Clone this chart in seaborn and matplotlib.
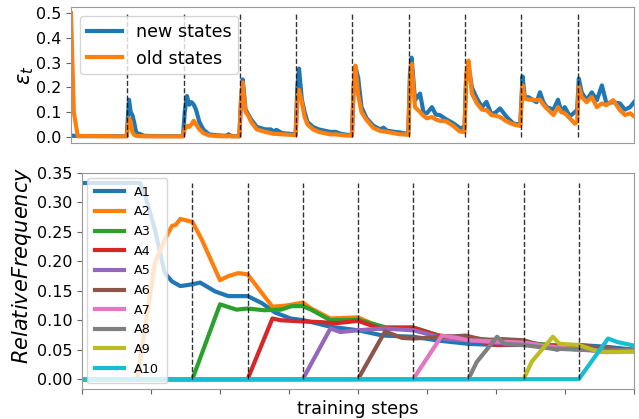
import numpy as np
import pandas as pd
import matplotlib
matplotlib.use("Agg")
import matplotlib.pyplot as plt
import seaborn as sns

# ---- top panel: epsilon_t for new / old states (x in units of tasks) ----
x_top = [0, 0.05, 0.12, 0.9, 0.99,
         1.03, 1.06, 1.09, 1.12, 1.16, 1.22, 1.3, 1.5, 1.99,
         2.02, 2.06, 2.1, 2.14, 2.18, 2.22, 2.28, 2.35, 2.45, 2.6, 2.75, 2.8, 2.85, 2.99,
         3.02, 3.05, 3.1, 3.15, 3.2, 3.3, 3.45, 3.55, 3.6, 3.65, 3.75, 3.9, 3.99,
         4.02, 4.05, 4.1, 4.15, 4.2, 4.3, 4.4, 4.5, 4.6, 4.7, 4.8, 4.9, 4.99,
         5.02, 5.05, 5.1, 5.16, 5.25, 5.37, 5.49, 5.55, 5.61, 5.75, 5.84, 5.9, 5.99,
         6.02, 6.05, 6.11, 6.2, 6.26, 6.32, 6.41, 6.48, 6.55, 6.67, 6.79, 6.91, 6.99,
         7.02, 7.06, 7.12, 7.21, 7.3, 7.38, 7.47, 7.55, 7.62, 7.74, 7.86, 7.98,
         8.02, 8.06, 8.13, 8.21, 8.27, 8.33, 8.39, 8.45, 8.57, 8.65, 8.71, 8.77, 8.86, 8.95, 8.99,
         9.02, 9.07, 9.16, 9.25, 9.34, 9.43, 9.51, 9.63, 9.75, 9.84, 9.93, 10.0]

eps_new = [0.005, 0.004, 0.003, 0.003, 0.003,
           0.15, 0.1, 0.088, 0.06, 0.015, 0.012, 0.004, 0.003, 0.003,
           0.1, 0.165, 0.13, 0.14, 0.13, 0.11, 0.06, 0.03, 0.01, 0.006, 0.004, 0.01, 0.003, 0.003,
           0.15, 0.232, 0.11, 0.09, 0.07, 0.04, 0.03, 0.03, 0.022, 0.028, 0.015, 0.012, 0.01,
           0.2, 0.276, 0.15, 0.1, 0.06, 0.04, 0.03, 0.025, 0.02, 0.02, 0.012, 0.008, 0.008,
           0.2, 0.285, 0.24, 0.12, 0.075, 0.045, 0.03, 0.037, 0.025, 0.02, 0.018, 0.015, 0.012,
           0.25, 0.32, 0.148, 0.175, 0.1, 0.095, 0.12, 0.09, 0.088, 0.07, 0.055, 0.035, 0.04,
           0.25, 0.29, 0.2, 0.155, 0.12, 0.141, 0.09, 0.1, 0.115, 0.08, 0.053, 0.05,
           0.244, 0.16, 0.16, 0.148, 0.14, 0.18, 0.14, 0.12, 0.11, 0.15, 0.1, 0.12, 0.083, 0.1, 0.11,
           0.235, 0.18, 0.148, 0.18, 0.148, 0.208, 0.135, 0.14, 0.135, 0.11, 0.12, 0.14]

eps_old = [0.5, 0.1, 0.003, 0.002, 0.002,
           0.075, 0.06, 0.02, 0.008, 0.004, 0.003, 0.002, 0.002, 0.002,
           0.03, 0.045, 0.04, 0.05, 0.065, 0.05, 0.03, 0.015, 0.006, 0.003, 0.002, 0.003, 0.002, 0.002,
           0.15, 0.22, 0.1, 0.085, 0.06, 0.03, 0.02, 0.015, 0.012, 0.012, 0.01, 0.008, 0.007,
           0.15, 0.19, 0.14, 0.08, 0.05, 0.03, 0.02, 0.015, 0.01, 0.01, 0.007, 0.005, 0.005,
           0.2, 0.288, 0.17, 0.1, 0.068, 0.036, 0.024, 0.022, 0.02, 0.014, 0.01, 0.01, 0.008,
           0.22, 0.295, 0.12, 0.1, 0.085, 0.075, 0.08, 0.07, 0.065, 0.062, 0.044, 0.021, 0.02,
           0.25, 0.308, 0.175, 0.135, 0.11, 0.108, 0.088, 0.085, 0.08, 0.062, 0.05, 0.044,
           0.208, 0.155, 0.15, 0.15, 0.148, 0.15, 0.13, 0.115, 0.088, 0.12, 0.1, 0.095, 0.075, 0.053, 0.06,
           0.204, 0.161, 0.14, 0.161, 0.12, 0.135, 0.128, 0.148, 0.108, 0.088, 0.095, 0.083]

top_bounds = [1, 2, 3, 4, 5, 6, 7, 8, 9]

# ---- bottom panel: relative frequency of each action ----
a1_x = [0, 1.05, 1.15, 1.32, 1.5, 1.63, 1.78, 2.0, 2.14, 2.41, 2.65, 3.0, 3.26, 3.5, 3.78, 4.02,
        4.5, 5.0, 5.45, 6.0, 6.5, 7.0, 7.5, 8.0, 8.5, 9.0, 9.5, 10.0]
a1_y = [0.333, 0.333, 0.31, 0.254, 0.18, 0.166, 0.158, 0.161, 0.164, 0.149, 0.141, 0.141, 0.129, 0.113,
        0.103, 0.1, 0.089, 0.083, 0.074, 0.072, 0.065, 0.06, 0.058, 0.058, 0.057, 0.058, 0.055, 0.05]
a2_x = [0, 1.0, 1.32, 1.5, 1.63, 1.7, 1.78, 2.0, 2.17, 2.5, 2.65, 2.83, 3.0, 3.26, 3.45, 3.7, 4.0,
        4.15, 4.5, 5.0, 5.45, 6.0, 6.45, 7.0, 7.5, 8.0, 8.5, 9.0, 9.5, 10.0]
a2_y = [0, 0, 0.197, 0.237, 0.26, 0.262, 0.272, 0.267, 0.237, 0.168, 0.175, 0.18, 0.178, 0.146, 0.123,
        0.125, 0.13, 0.12, 0.103, 0.105, 0.086, 0.087, 0.074, 0.07, 0.065, 0.06, 0.057, 0.055, 0.052, 0.048]
a3_x = [0, 2.0, 2.5, 2.6, 2.8, 3.0, 3.3, 3.6, 3.8, 4.0, 4.15, 4.5, 5.0, 5.5, 6.0, 6.5, 7.0, 7.5,
        8.0, 8.5, 9.0, 9.5, 10.0]
a3_y = [0, 0, 0.127, 0.124, 0.118, 0.12, 0.117, 0.118, 0.124, 0.124, 0.118, 0.1, 0.101, 0.088, 0.088,
        0.073, 0.07, 0.066, 0.062, 0.058, 0.055, 0.05, 0.047]
a4_x = [0, 3.0, 3.45, 3.6, 4.0, 4.3, 4.6, 5.0, 5.4, 6.0, 6.45, 7.0, 7.5, 8.0, 8.5, 9.0, 9.5, 10.0]
a4_y = [0, 0, 0.103, 0.1, 0.098, 0.097, 0.095, 0.099, 0.086, 0.087, 0.074, 0.068, 0.058, 0.06, 0.056,
        0.055, 0.052, 0.048]
a5_x = [0, 4.0, 4.5, 4.68, 5.0, 5.45, 6.0, 6.25, 6.6, 7.0, 7.5, 8.0, 8.5, 9.0, 9.5, 10.0]
a5_y = [0, 0, 0.086, 0.08, 0.083, 0.086, 0.083, 0.077, 0.068, 0.066, 0.062, 0.06, 0.055, 0.052, 0.046, 0.048]
a6_x = [0, 5.0, 5.49, 5.8, 6.0, 6.6, 6.95, 7.3, 7.6, 8.0, 8.6, 9.0, 9.5, 10.0]
a6_y = [0, 0, 0.081, 0.07, 0.069, 0.072, 0.074, 0.066, 0.068, 0.066, 0.05, 0.058, 0.052, 0.05]
a7_x = [0, 6.0, 6.52, 6.8, 7.0, 7.5, 8.0, 8.5, 9.0, 9.5, 10.0]
a7_y = [0, 0, 0.074, 0.07, 0.066, 0.064, 0.062, 0.055, 0.05, 0.048, 0.048]
a8_x = [0, 7.0, 7.15, 7.52, 7.65, 8.0, 8.5, 9.0, 9.5, 10.0]
a8_y = [0, 0, 0.029, 0.072, 0.06, 0.058, 0.052, 0.05, 0.048, 0.05]
a9_x = [0, 8.0, 8.15, 8.53, 8.65, 9.0, 9.38, 9.7, 10.0]
a9_y = [0, 0, 0.03, 0.072, 0.06, 0.058, 0.046, 0.046, 0.047]
a10_x = [0, 9.0, 9.53, 9.7, 10.0]
a10_y = [0, 0, 0.069, 0.063, 0.057]

actions = ["A1", "A2", "A3", "A4", "A5", "A6", "A7", "A8", "A9", "A10"]
bottom_bounds = [2, 3, 4, 5, 6, 7, 8, 9]

# long-form frames for seaborn
df_top = pd.concat([
    pd.DataFrame({"step": x_top, "eps": eps_new, "kind": "new states"}),
    pd.DataFrame({"step": x_top, "eps": eps_old, "kind": "old states"}),
])
xs = [a1_x, a2_x, a3_x, a4_x, a5_x, a6_x, a7_x, a8_x, a9_x, a10_x]
ys = [a1_y, a2_y, a3_y, a4_y, a5_y, a6_y, a7_y, a8_y, a9_y, a10_y]
df_bot = pd.concat([pd.DataFrame({"step": x, "freq": y, "action": a})
                    for x, y, a in zip(xs, ys, actions)])

fig = plt.figure(figsize=(6.39, 4.19), dpi=100)
ax1 = fig.add_axes([71 / 639, 1 - 143 / 419, 563 / 639, 136 / 419])
ax2 = fig.add_axes([82 / 639, 1 - 389 / 419, 552 / 639, 216 / 419])

pal = sns.color_palette("tab10", 10)

# top
sns.lineplot(data=df_top, x="step", y="eps", hue="kind", palette=pal[:2], lw=3,
             ax=ax1, estimator=None, sort=False)
ax1.vlines(top_bounds, 0, 0.5, colors="k", linestyles="--", lw=1, alpha=0.8)
ax1.set_xlim(0, 10)
ax1.set_ylim(-0.025, 0.525)
ax1.set_xticks([])
ax1.set_xlabel("")
ax1.set_ylabel(r"$\epsilon_t$", fontsize=15)
ax1.set_yticks([0, 0.1, 0.2, 0.3, 0.4, 0.5])
ax1.tick_params(labelsize=11.5)
leg1 = ax1.legend(loc="upper left", fontsize=12.6, handlelength=2.0)
for h in leg1.get_lines():
    h.set_linewidth(3)

# bottom
sns.lineplot(data=df_bot, x="step", y="freq", hue="action", palette=pal, lw=3,
             ax=ax2, estimator=None, sort=False)
ax2.vlines(bottom_bounds, 0, 0.3333, colors="k", linestyles="--", lw=1, alpha=0.8)
ax2.set_xlim(0, 10)
ax2.set_ylim(-0.0167, 0.35)
ax2.set_xticks(np.arange(0, 10.01, 1.25))
ax2.set_xticklabels([])
ax2.set_xlabel("training steps", fontsize=12.7, labelpad=1)
ax2.set_ylabel(r"$RelativeFrequency$", fontsize=15)
ax2.set_yticks([0, 0.05, 0.1, 0.15, 0.2, 0.25, 0.3, 0.35])
ax2.tick_params(labelsize=11.5)
leg2 = ax2.legend(loc="upper left", fontsize=9.2, labelspacing=0.52,
                  handlelength=2.3, borderaxespad=0.4, borderpad=0.6)
for h in leg2.get_lines():
    h.set_linewidth(3)

for ax in (ax1, ax2):
    for s in ax.spines.values():
        s.set_color("0.6")
    ax.tick_params(color="0.4")

ax1.yaxis.set_label_coords(-0.062, 0.5)
ax2.yaxis.set_label_coords(-0.087, 0.574)

fig.savefig("out.png", dpi=100)
